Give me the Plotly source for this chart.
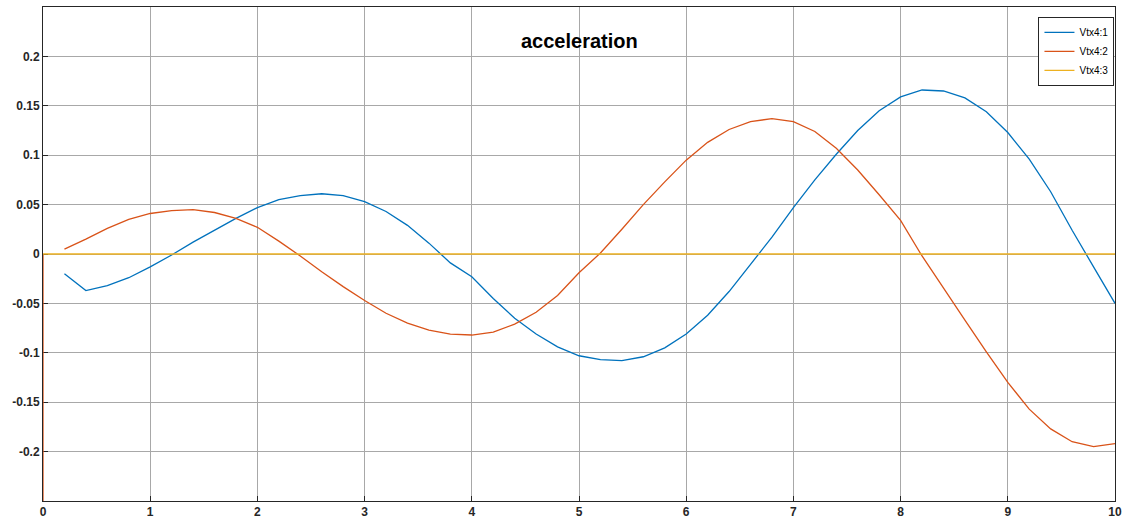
import plotly.graph_objects as go

t = [round(0.2 * i, 1) for i in range(1, 51)]

vtx1 = [-0.020, -0.037, -0.032, -0.024, -0.013, -0.001, 0.012, 0.024, 0.036, 0.047,
        0.055, 0.059, 0.061, 0.059, 0.053, 0.043, 0.029, 0.011, -0.009, -0.023,
        -0.045, -0.065, -0.081, -0.094, -0.103, -0.107, -0.108, -0.104, -0.095, -0.081,
        -0.062, -0.038, -0.011, 0.017, 0.047, 0.075, 0.101, 0.125, 0.145, 0.159,
        0.166, 0.165, 0.158, 0.144, 0.123, 0.096, 0.063, 0.024, -0.013, -0.050]

# orange series: initial spike at t=0 (off the bottom of the chart), then the curve
t2 = [0.0, 0.0, None] + t
vtx2 = [-0.3, 0.0, None,
        0.005, 0.015, 0.026, 0.035, 0.041, 0.044, 0.045, 0.042, 0.036, 0.027,
        0.013, -0.002, -0.018, -0.033, -0.047, -0.060, -0.070, -0.077, -0.081, -0.082,
        -0.079, -0.071, -0.059, -0.042, -0.019, 0.001, 0.025, 0.050, 0.073, 0.095,
        0.113, 0.126, 0.134, 0.137, 0.134, 0.124, 0.107, 0.085, 0.060, 0.034,
        -0.002, -0.035, -0.067, -0.099, -0.130, -0.157, -0.177, -0.190, -0.195, -0.192]

t3 = [0.0] + t
vtx3 = [0.0] * len(t3)

x_ticks = list(range(0, 11))
y_ticks = [-0.2, -0.15, -0.1, -0.05, 0, 0.05, 0.1, 0.15, 0.2]
y_labels = ["-0.2", "-0.15", "-0.1", "-0.05", "0", "0.05", "0.1", "0.15", "0.2"]

fig = go.Figure()
fig.add_trace(go.Scatter(x=t, y=vtx1, mode="lines", name="Vtx4:1",
                         line=dict(color="#0072BD", width=1.3)))
fig.add_trace(go.Scatter(x=t2, y=vtx2, mode="lines", name="Vtx4:2", connectgaps=False,
                         line=dict(color="#D95319", width=1.3)))
fig.add_trace(go.Scatter(x=t3, y=vtx3, mode="lines", name="Vtx4:3",
                         line=dict(color="#EDB120", width=1.3)))

axis_common = dict(
    showgrid=True, gridcolor="#a8a8a8", gridwidth=1,
    showline=True, linecolor="#262626", linewidth=1, mirror=True,
    ticks="inside", ticklen=5, tickcolor="#262626",
    zeroline=False, layer="below traces",
    tickfont=dict(family="Liberation Sans, Arial", size=12, color="#262626", weight="bold"),
)

fig.update_xaxes(range=[0, 10], tickvals=x_ticks, **axis_common)
fig.update_yaxes(range=[-0.25, 0.25], tickvals=y_ticks, ticktext=y_labels, **axis_common)

fig.add_annotation(x=5, y=0.932, xref="x", yref="paper", text="<b>acceleration</b>",
                   showarrow=False, font=dict(family="Liberation Sans, Arial", size=20, color="#000000"),
                   xanchor="center", yanchor="middle")

fig.update_layout(
    width=1128, height=526,
    margin=dict(l=43, r=11, t=6, b=25),
    paper_bgcolor="white", plot_bgcolor="white",
    showlegend=True,
    legend=dict(x=0.9995, y=0.98, xanchor="right", yanchor="top",
                bgcolor="white", bordercolor="#262626", borderwidth=1,
                font=dict(family="Liberation Sans, Arial", size=10, color="#000000"),
                tracegroupgap=0),
)

fig.write_html("out.html")
